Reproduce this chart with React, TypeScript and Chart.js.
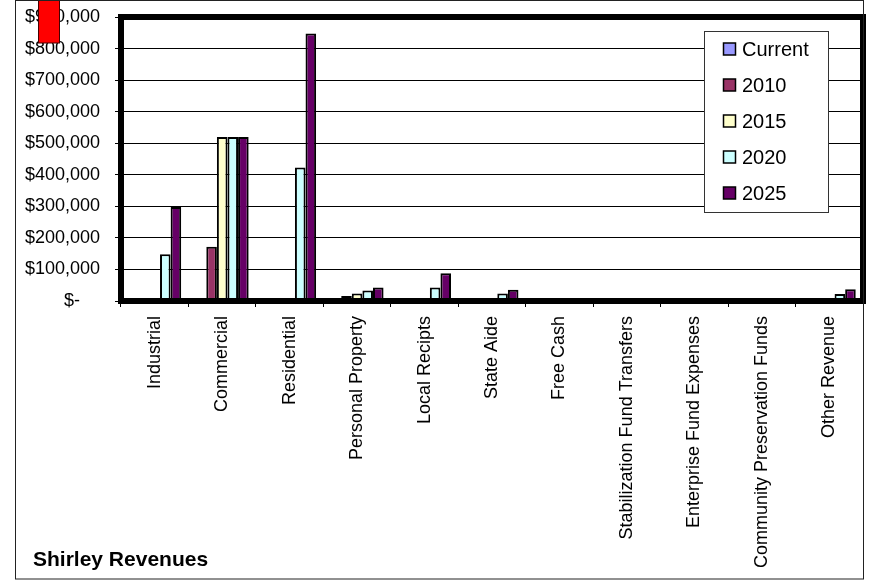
import React, { useEffect, useRef } from 'react';
import { Chart, registerables } from 'chart.js';

Chart.register(...registerables);

const categories = [
  'Industrial',
  'Commercial',
  'Residential',
  'Personal Property',
  'Local Recipts',
  'State Aide',
  'Free Cash',
  'Stabilization Fund Transfers',
  'Enterprise Fund Expenses',
  'Community Preservation Funds',
  'Other Revenue',
];

const seriesNames = ['Current', '2010', '2015', '2020', '2025'];

const valuesCurrent = [0, 0, 0, 0, 0, 0, 0, 0, 0, 0, 0];
const values2010 = [0, 172000, 0, 16000, 0, 0, 0, 0, 0, 0, 0];
const values2015 = [0, 520000, 0, 24000, 0, 0, 0, 0, 0, 0, 0];
const values2020 = [148000, 520000, 423000, 33000, 43000, 24000, 0, 0, 0, 0, 22000];
const values2025 = [298000, 520000, 848000, 43000, 88000, 36000, 0, 0, 0, 0, 37000];

const seriesColors = ['#9999FF', '#993366', '#FFFFCC', '#CCFFFF', '#660066'];

const yMin = 0;
const yMax = 900000;
const yStep = 100000;

const chartTitle = 'Shirley Revenues';

const FONT = '"Liberation Sans", Arial, Helvetica, sans-serif';

const framePlugin = {
  id: 'frame',
  afterDatasetsDraw(chart: any) {
    const { ctx, chartArea } = chart;
    ctx.save();
    ctx.strokeStyle = '#000';
    ctx.lineWidth = 6;
    ctx.lineJoin = 'miter';
    ctx.strokeRect(
      chartArea.left,
      chartArea.top,
      chartArea.right - chartArea.left,
      chartArea.bottom - chartArea.top
    );
    ctx.restore();
  },
};

const decorPlugin = {
  id: 'decor',
  afterDraw(chart: any) {
    const { ctx, chartArea } = chart;
    ctx.save();
    // legend box
    const lx = chartArea.right - 159;
    const ly = chartArea.top + 13.5;
    const lw = 124;
    const lh = 181;
    ctx.fillStyle = '#fff';
    ctx.fillRect(lx, ly, lw, lh);
    ctx.strokeStyle = '#333';
    ctx.lineWidth = 1;
    ctx.strokeRect(Math.round(lx) + 0.5, Math.round(ly) + 0.5, lw, lh);
    ctx.font = `20px ${FONT}`;
    ctx.textBaseline = 'middle';
    ctx.textAlign = 'left';
    chart.data.datasets.forEach((ds: any, i: number) => {
      const cy = ly + 18.5 + i * 36;
      ctx.fillStyle = ds.backgroundColor;
      ctx.fillRect(lx + 19.5, cy - 6, 12, 12);
      ctx.strokeStyle = '#000';
      ctx.lineWidth = 1.5;
      ctx.strokeRect(lx + 19.5, cy - 6, 12, 12);
      ctx.fillStyle = '#000';
      ctx.fillText(ds.label, lx + 38, cy + 1);
    });
    // title
    ctx.font = `bold 21px ${FONT}`;
    ctx.fillStyle = '#000';
    ctx.textBaseline = 'middle';
    ctx.textAlign = 'left';
    ctx.fillText(chartTitle, 33, 560);
    // red marker
    ctx.fillStyle = '#FF0000';
    ctx.fillRect(38, 0, 22, 43);
    ctx.strokeStyle = '#400';
    ctx.lineWidth = 1;
    ctx.strokeRect(38.5, -1, 21, 44);
    // outer border
    ctx.strokeStyle = '#222';
    ctx.lineWidth = 1;
    ctx.strokeRect(15.5, 0.5, 848, 578.5);
    ctx.restore();
  },
};

export default function App() {
  const canvasRef = useRef<HTMLCanvasElement | null>(null);

  useEffect(() => {
    document.body.style.margin = '0';
    const canvas = canvasRef.current;
    if (!canvas) return;
    const allSeries = [valuesCurrent, values2010, values2015, values2020, values2025];
    const chart = new Chart(canvas, {
      type: 'bar',
      data: {
        labels: categories,
        datasets: seriesNames.map((name, i) => ({
          label: name,
          data: allSeries[i],
          backgroundColor: seriesColors[i],
          borderColor: '#000',
          borderWidth: 2,
          borderSkipped: false,
          categoryPercentage: 0.785,
          barPercentage: 1,
        })),
      },
      options: {
        responsive: false,
        animation: false,
        devicePixelRatio: 1,
        layout: { padding: { left: 0, right: 8, top: 17, bottom: 0 } },
        plugins: {
          legend: { display: false },
          title: { display: false },
          tooltip: { enabled: false },
        },
        scales: {
          x: {
            grid: {
              display: true,
              drawOnChartArea: false,
              drawTicks: true,
              tickLength: 6,
              color: '#000',
              lineWidth: 1,
              offset: true,
            },
            border: { display: false },
            ticks: {
              autoSkip: false,
              maxRotation: 90,
              minRotation: 90,
              padding: 9,
              color: '#000',
              font: { family: FONT, size: 18 },
            },
            afterFit(scale: any) {
              scale.height = 282;
              scale.paddingLeft = 0;
              scale.paddingRight = 0;
            },
          },
          y: {
            min: yMin,
            max: yMax,
            grid: {
              color: '#000',
              lineWidth: 1,
              drawTicks: true,
              tickLength: 6,
            },
            border: { display: false },
            ticks: {
              stepSize: yStep,
              padding: 15,
              color: '#000',
              font: { family: FONT, size: 18 },
              callback: (v: any) =>
                Number(v) === 0 ? '$-    ' : '$' + Number(v).toLocaleString('en-US'),
            },
            afterFit(scale: any) {
              scale.width = 121;
              scale.paddingTop = 0;
              scale.paddingBottom = 0;
            },
          },
        },
      },
      plugins: [framePlugin, decorPlugin],
    });
    return () => chart.destroy();
  }, []);

  return (
    <div style={{ position: 'relative', width: 871, height: 583, background: '#fff' }}>
      <canvas ref={canvasRef} width={871} height={583} style={{ width: 871, height: 583, display: 'block' }} />
    </div>
  );
}
